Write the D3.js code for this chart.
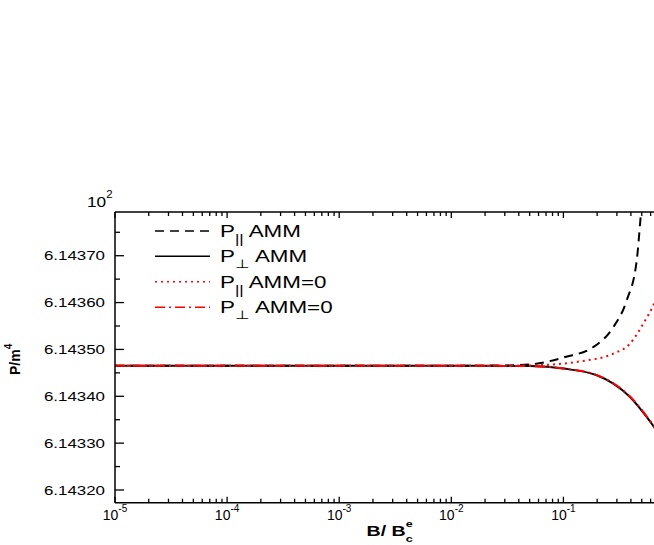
<!DOCTYPE html>
<html>
<head>
<meta charset="utf-8">
<script src="https://cdn.jsdelivr.net/npm/d3@7"></script>
<style>
  body { margin: 0; background: #fff; }
  text { font-family: Arial, "Liberation Sans", sans-serif; fill: #000; }
</style>
</head>
<body>
<svg id="chart" width="654" height="545"></svg>
<script>
// values (B in units of B_c^e, P/m^4 in units of 10^2)
const bParAMM = [1e-5, 1e-3, 1e-2, 0.03, 0.0504, 0.1035, 0.185, 0.279, 0.367, 0.451, 0.49, 0.53];
const pParAMM = [6.1434650, 6.1434650, 6.1434651, 6.1434658, 6.1434680, 6.1434838, 6.1435051, 6.1435478, 6.1436047, 6.1436900, 6.1437859, 6.1438800];

const bPerpAMM = [1e-5, 1e-3, 1e-2, 0.03, 0.0504, 0.1, 0.1987, 0.279, 0.393, 0.553, 0.643, 0.7];
const pPerpAMM = [6.1434650, 6.1434650, 6.1434650, 6.1434649, 6.1434644, 6.1434591, 6.1434448, 6.1434271, 6.1433985, 6.1433559, 6.1433345, 6.1433200];

const bParAMM0 = [1e-5, 1e-3, 1e-2, 0.03, 0.0619, 0.141, 0.279, 0.393, 0.516, 0.643, 0.7];
const pParAMM0 = [6.1434650, 6.1434650, 6.1434650, 6.1434652, 6.1434666, 6.1434745, 6.1434910, 6.1435124, 6.1435550, 6.1435976, 6.1436200];

const bPerpAMM0 = [1e-5, 1e-3, 1e-2, 0.03, 0.0504, 0.1, 0.1987, 0.279, 0.393, 0.553, 0.643, 0.7];
const pPerpAMM0 = [6.1434650, 6.1434650, 6.1434650, 6.1434649, 6.1434645, 6.1434594, 6.1434452, 6.1434278, 6.1433994, 6.1433572, 6.1433360, 6.1433220];

const yTicks = [6.14320, 6.14330, 6.14340, 6.14350, 6.14360, 6.14370];
const yMinor = [6.14325, 6.14335, 6.14345, 6.14355, 6.14365, 6.14375];
const xTickExp = [-5, -4, -3, -2, -1];

const legendItems = [
  { sub: "||", name: " AMM", color: "#000", dash: "9,6" },
  { sub: "\u22A5", name: " AMM", color: "#000", dash: null },
  { sub: "||", name: " AMM=0", color: "#ff0000", dash: "2,4" },
  { sub: "\u22A5", name: " AMM=0", color: "#ff0000", dash: "10,4,2,4" }
];

// layout
const plotLeft = 115, plotTop = 212, plotBottom = 502.7;
const x = d3.scaleLog().domain([1e-5, 1]).range([plotLeft, 675.5]);
const y = d3.scaleLinear().domain([6.1431729, 6.1437933]).range([plotBottom, plotTop]);
const plotRight = x.range()[1];

const svg = d3.select("#chart");

svg.append("defs").append("clipPath").attr("id", "plot")
  .append("rect").attr("x", plotLeft).attr("y", plotTop)
  .attr("width", plotRight - plotLeft).attr("height", plotBottom - plotTop);

function series(bs, ps) {
  return bs.map(function(b, i) { return { b: b, v: ps[i] }; });
}

const line = d3.line()
  .x(function(d) { return x(d.b); })
  .y(function(d) { return y(d.v); })
  .curve(d3.curveMonotoneX);

const curves = svg.append("g").attr("clip-path", "url(#plot)");

function drawCurve(data, color, dash) {
  curves.append("path")
    .attr("d", line(data))
    .attr("fill", "none")
    .attr("stroke", color)
    .attr("stroke-width", 2)
    .attr("stroke-dasharray", dash);
}

drawCurve(series(bParAMM, pParAMM), "#000", "9,6");
drawCurve(series(bPerpAMM, pPerpAMM), "#000", null);
drawCurve(series(bParAMM0, pParAMM0), "#ff0000", "2,4");
drawCurve(series(bPerpAMM0, pPerpAMM0), "#ff0000", "10,4,2,4");

// axes frame
const axes = svg.append("g").attr("stroke", "#000").attr("stroke-width", 1.5);
axes.append("line").attr("x1", plotLeft).attr("x2", plotLeft).attr("y1", plotTop).attr("y2", plotBottom);
axes.append("line").attr("x1", plotLeft).attr("x2", plotRight).attr("y1", plotBottom).attr("y2", plotBottom);
axes.append("line").attr("x1", plotLeft).attr("x2", plotRight).attr("y1", plotTop).attr("y2", plotTop);

// x ticks (bottom pointing up, top pointing down)
const xMajor = d3.range(-5, 1).map(function(e) { return Math.pow(10, e); });
const xMinorVals = [];
xMajor.forEach(function(m) {
  for (let k = 2; k <= 9; k++) xMinorVals.push(m * k);
});

const tickG = svg.append("g").attr("stroke", "#000").attr("stroke-width", 1.3);
xMajor.forEach(function(v) {
  tickG.append("line").attr("x1", x(v)).attr("x2", x(v)).attr("y1", plotBottom).attr("y2", plotBottom - 6);
  tickG.append("line").attr("x1", x(v)).attr("x2", x(v)).attr("y1", plotTop).attr("y2", plotTop + 6);
});
xMinorVals.forEach(function(v) {
  tickG.append("line").attr("x1", x(v)).attr("x2", x(v)).attr("y1", plotBottom).attr("y2", plotBottom - 4);
  tickG.append("line").attr("x1", x(v)).attr("x2", x(v)).attr("y1", plotTop).attr("y2", plotTop + 4);
});
yTicks.forEach(function(v) {
  tickG.append("line").attr("x1", plotLeft).attr("x2", plotLeft + 9).attr("y1", y(v)).attr("y2", y(v));
});
yMinor.forEach(function(v) {
  tickG.append("line").attr("x1", plotLeft).attr("x2", plotLeft + 5).attr("y1", y(v)).attr("y2", y(v));
});

// x tick labels
xTickExp.forEach(function(e) {
  const t = svg.append("text")
    .attr("x", x(Math.pow(10, e)))
    .attr("y", 520)
    .attr("text-anchor", "middle")
    .attr("font-size", 14);
  t.append("tspan").text("10");
  t.append("tspan").attr("dy", -8).attr("font-size", 10).text(e);
});

// y tick labels (text in the picture is horizontally wide)
yTicks.forEach(function(v) {
  svg.append("g")
    .attr("transform", "translate(105," + (y(v) + 4.5) + ") scale(1.3,1)")
    .append("text")
    .attr("text-anchor", "end")
    .attr("font-size", 13)
    .text(d3.format(".5f")(v));
});

// 10^2 multiplier
const mult = svg.append("g").attr("transform", "translate(87,207) scale(1.15,1)")
  .append("text").attr("font-size", 15);
mult.append("tspan").text("10");
mult.append("tspan").attr("dy", -9).attr("font-size", 10).text("2");

// axis titles
const xt = svg.append("g")
  .attr("transform", "translate(366.5,536) scale(1.4,1)")
  .append("text").attr("font-size", 14).attr("font-weight", "bold");
xt.append("tspan").text("B/ B");
xt.append("tspan").attr("dy", -9).attr("font-size", 9).text("e");
xt.append("tspan").attr("dx", -5).attr("dy", 15).attr("font-size", 9).text("c");

const yt = svg.append("text")
  .attr("transform", "translate(20,375) rotate(-90)")
  .attr("font-size", 14).attr("font-weight", "bold");
yt.append("tspan").text("P/m");
yt.append("tspan").attr("dy", -8).attr("font-size", 10).text("4");

// legend
const rowY = [231, 256.3, 281.8, 307.2];
legendItems.forEach(function(item, i) {
  svg.append("line")
    .attr("x1", 155).attr("x2", 210)
    .attr("y1", rowY[i]).attr("y2", rowY[i])
    .attr("stroke", item.color)
    .attr("stroke-width", 1.6)
    .attr("stroke-dasharray", item.dash);
  const t = svg.append("g")
    .attr("transform", "translate(220," + (rowY[i] + 5.8) + ") scale(1.4,1)")
    .append("text").attr("font-size", 16);
  t.append("tspan").text("P");
  t.append("tspan").attr("dy", 6).attr("font-size", 12).text(item.sub);
  t.append("tspan").attr("dy", -6).text(item.name);
});
</script>
</body>
</html>
